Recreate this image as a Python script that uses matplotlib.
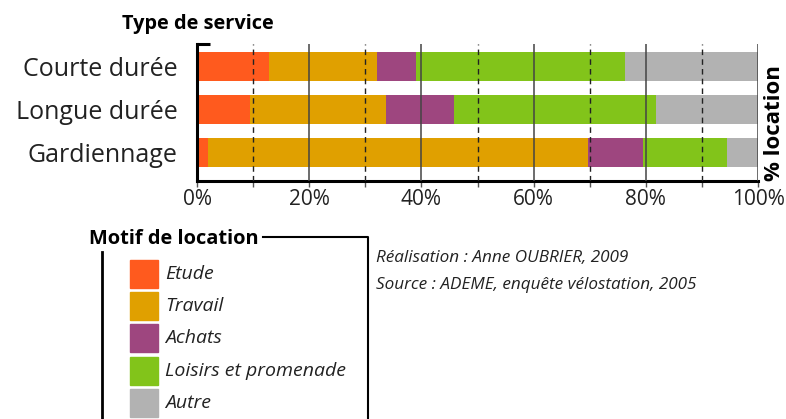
import numpy as np
import matplotlib
matplotlib.use('Agg')
import matplotlib.pyplot as plt
from matplotlib.patches import Rectangle

plt.rcParams['font.family'] = ['Open Sans', 'DejaVu Sans']

services = ['Courte durée', 'Longue durée', 'Gardiennage']
motifs = ['Etude', 'Travail', 'Achats', 'Loisirs et promenade', 'Autre']
colors = ['#FF5A1E', '#E0A000', '#9E467F', '#82C41A', '#B2B2B2']
# percentages per motif, one value per service
etude = [12.8, 9.4, 2.0]
travail = [19.3, 24.3, 67.7]
achats = [6.9, 12.1, 9.8]
loisirs = [37.3, 36.0, 15.0]
autre = [23.7, 18.2, 5.5]
series = [etude, travail, achats, loisirs, autre]
x_ticks = [0, 20, 40, 60, 80, 100]
x_tick_labels = ['0%', '20%', '40%', '60%', '80%', '100%']
x_minor = [10, 30, 50, 70, 90]

W, H = 786, 419
fig = plt.figure(figsize=(W / 100, H / 100), dpi=100)

# main chart, placed in pixel units
ax = fig.add_axes([197 / W, (H - 181) / H, 561 / W, 137 / H])
y = np.arange(len(services))
left = np.zeros(len(services))
for vals, c in zip(series, colors):
    ax.barh(y, vals, left=left, height=0.67, color=c, zorder=1)
    left += np.array(vals)

for g in x_ticks[1:]:
    ax.axvline(g, color='#444444', lw=1.1, zorder=3)
for g in x_minor:
    ax.axvline(g, color='#222222', lw=1.0, ls=(0, (4, 3)), zorder=3)

ax.set_xlim(0, 100)
ax.set_ylim(2.67, -0.52)
ax.set_yticks(y)
ax.set_yticklabels(services, fontsize=18, color='#222222')
ax.set_xticks(x_ticks)
ax.set_xticks(x_minor, minor=True)
ax.set_xticklabels(x_tick_labels, fontsize=15, color='#222222')
ax.tick_params(axis='y', length=0, pad=14)
ax.tick_params(axis='x', which='both', length=4, width=1, color='#555555', pad=2)
for s in ['top', 'right']:
    ax.spines[s].set_visible(False)
ax.spines['left'].set_linewidth(2.2)
ax.spines['bottom'].set_linewidth(2.2)
ax.plot([0, 2.3], [-0.52, -0.52], color='black', lw=2.2, clip_on=False,
        solid_capstyle='butt')

# overlay in pixel coordinates for titles and the legend box
lay = fig.add_axes([0, 0, 1, 1], facecolor='none')
lay.set_xlim(0, W)
lay.set_ylim(H, 0)
lay.axis('off')

lay.text(198, 24, 'Type de service', fontsize=14.4, fontweight='bold',
         ha='center', va='center')
lay.text(775, 123, '% location', fontsize=16, fontweight='bold',
         rotation=90, ha='center', va='center')

lay.text(89, 239, 'Motif de location', fontsize=14.4, fontweight='bold',
         ha='left', va='center')
lay.plot([263, 368, 368], [237, 237, H], color='black', lw=1.5)
lay.plot([102, 102], [252, H], color='black', lw=2)
for i, (m, c) in enumerate(zip(motifs, colors)):
    top = 260 + i * 32.2
    lay.add_patch(Rectangle((130, top), 28, 28, color=c))
    lay.text(165, top + 14, m, fontsize=14, style='italic',
             ha='left', va='center', color='#222222')

lay.text(376, 258, 'Réalisation : Anne OUBRIER, 2009', fontsize=12.3,
         style='italic', ha='left', va='center', color='#222222')
lay.text(376, 285, 'Source : ADEME, enquête vélostation, 2005', fontsize=12.3,
         style='italic', ha='left', va='center', color='#222222')

fig.savefig('out.png', dpi=100)
